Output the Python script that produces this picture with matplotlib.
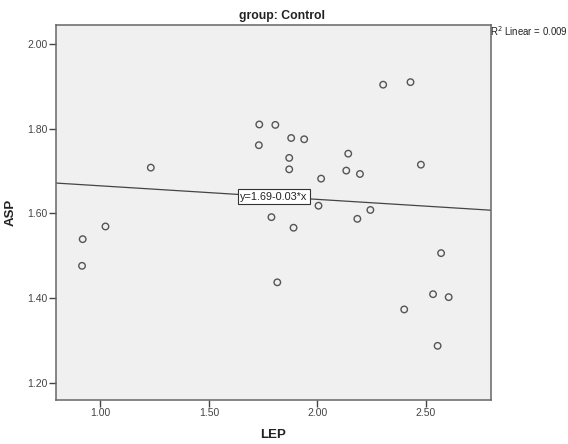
import numpy as np
import matplotlib
matplotlib.use("Agg")
import matplotlib.pyplot as plt

plt.rcParams['font.family'] = ['Liberation Sans', 'DejaVu Sans']

# values
lep = [0.918, 0.915, 1.023, 1.232, 1.732, 1.806, 1.879, 1.939, 1.730, 1.870,
       1.870, 2.142, 2.133, 2.196, 2.017, 2.005, 2.244, 1.788, 2.184, 1.890,
       1.815, 2.303, 2.429, 2.477, 2.570, 2.533, 2.605, 2.400, 2.554]
asp = [1.539, 1.476, 1.569, 1.708, 1.810, 1.809, 1.778, 1.775, 1.761, 1.731,
       1.704, 1.741, 1.701, 1.693, 1.682, 1.618, 1.608, 1.591, 1.587, 1.566,
       1.437, 1.904, 1.910, 1.715, 1.506, 1.409, 1.402, 1.373, 1.287]
fit_intercept = 1.697
fit_slope = -0.032
fit_label = "y=1.69-0.03*x"
r2_label = "R$^2$ Linear = 0.009"
title = "group: Control"
x_ticks = [1.0, 1.5, 2.0, 2.5]
y_ticks = [1.2, 1.4, 1.6, 1.8, 2.0]

fig = plt.figure(figsize=(5.68, 4.44), dpi=100)
ax = fig.add_axes([0.0986, 0.0991, 0.7658, 0.8446])
ax.set_facecolor("#f0f0f0")

xlim = (0.795, 2.80)
ylim = (1.159, 2.045)

xs = np.array(xlim)
ax.plot(xs, fit_intercept + fit_slope * xs, color="#444444", lw=0.9, zorder=2)
ax.scatter(lep, asp, s=22, facecolors="none", edgecolors="#555555",
           linewidths=1.0, zorder=3)

bx = 1.80
ax.text(bx, fit_intercept + fit_slope * bx, fit_label, fontsize=7.8,
        ha="center", va="center", color="#222222", zorder=4,
        bbox=dict(boxstyle="square,pad=0.25", fc="white", ec="#333333", lw=0.8))

ax.set_xlim(*xlim)
ax.set_ylim(*ylim)
ax.set_xticks(x_ticks)
ax.set_xticklabels(["%.2f" % v for v in x_ticks])
ax.set_yticks(y_ticks)
ax.set_yticklabels(["%.2f" % v for v in y_ticks])
ax.tick_params(direction="out", length=5, width=1, color="#444444",
               labelsize=7.5, labelcolor="#444444", pad=1)
for s in ax.spines.values():
    s.set_color("#666666")
    s.set_linewidth(1.1)

ax.set_xlabel("LEP", fontsize=9.5, fontweight="bold", color="#222222")
ax.set_ylabel("ASP", fontsize=9.5, fontweight="bold", color="#222222")
ax.xaxis.set_label_coords(0.5, -0.078)
ax.yaxis.set_label_coords(-0.09, 0.5)

fig.text(282 / 568, 1 - 16 / 444, title, fontsize=8.8, fontweight="bold",
         ha="center", va="center", color="#222222")
fig.text(490 / 568, 1 - 31 / 444, r2_label, fontsize=6.9, ha="left",
         va="center", color="#222222")

fig.savefig("out.png", dpi=100)
plt.close(fig)
